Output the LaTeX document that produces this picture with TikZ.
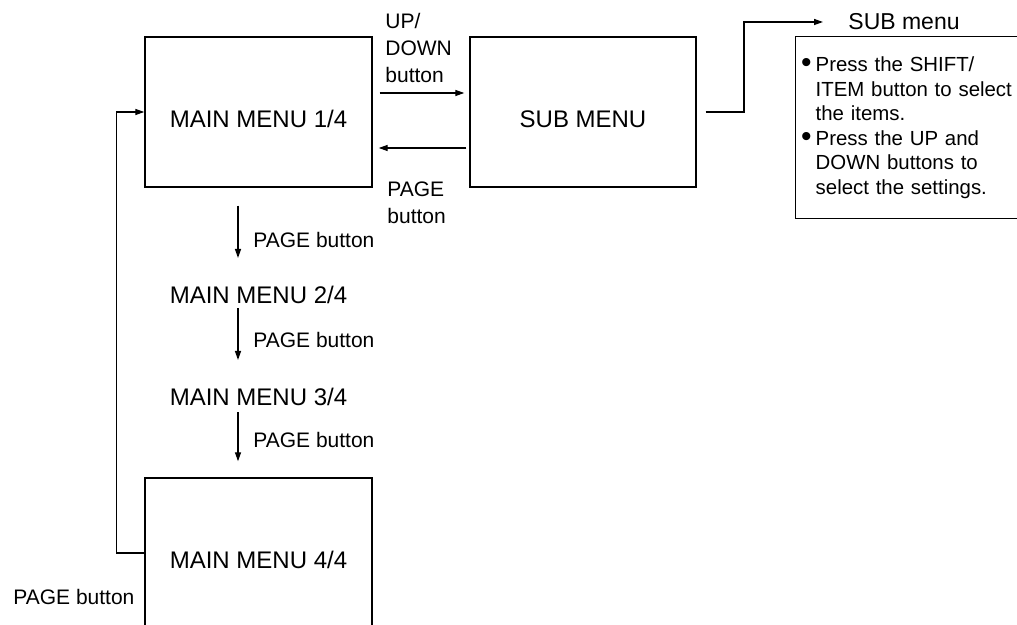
\documentclass[tikz,border=0pt]{standalone}
\usepackage{fontspec}
\setmainfont{Liberation Sans}
\usetikzlibrary{arrows.meta}

\newcommand{\notebullet}{\leavevmode\llap{\raisebox{-0.4pt}{\fontsize{15}{12}\selectfont\textbullet}\hspace{2pt}}}

\tikzset{
  menubox/.style={draw,line width=0.7pt,minimum width=113.5pt,minimum height=75pt,
    font=\fontsize{12}{14}\selectfont,text height=15.6pt,text depth=0pt},
  menutext/.style={inner sep=0pt,font=\fontsize{12}{14}\selectfont,text height=8.6pt,text depth=0pt},
  keylabel/.style={inner sep=0pt,anchor=west,align=left,font=\fontsize{10.5}{13.5}\selectfont},
  notebox/.style={draw,line width=0.7pt,anchor=north west,align=left,text width=150pt,
    inner xsep=10pt,minimum height=91pt,font=\fontsize{10.2}{12.3}\selectfont},
  arr/.style={line width=0.65pt,-{Triangle[length=4.5pt,width=3pt]}}
}

\begin{document}
\begin{tikzpicture}[x=0.5pt,y=-0.5pt]
  \useasboundingbox (0,0) rectangle (1017,625);
  \clip (0,0) rectangle (1017,625);

  \node[menubox] (main1) at (258.5,112) {MAIN MENU 1/4};
  \node[menubox,minimum width=113pt] (sub) at (583,112) {SUB MENU};
  \node[menutext] (main2) at (258.5,295) {MAIN MENU 2/4};
  \node[menutext] (main3) at (258.5,397) {MAIN MENU 3/4};
  \node[menubox] (main4) at (258.5,553) {MAIN MENU 4/4};

  \node[keylabel] (updown) at (385,48) {UP/\\DOWN\\button};
  \node[keylabel] (pageback) at (387,203) {PAGE\\button};
  \node[keylabel] (pg1) at (253,240) {PAGE button};
  \node[keylabel] (pg2) at (253,340) {PAGE button};
  \node[keylabel] (pg3) at (253,440) {PAGE button};
  \node[keylabel] (pg4) at (13,597) {PAGE button};

  \node[keylabel,font=\fontsize{11.5}{14}\selectfont] (submenu) at (848,22) {SUB menu};
  \node[notebox] (notes) at (795,36) {%
    \notebullet Press the SHIFT/\\
    ITEM button to select\\
    the items.\\
    \notebullet Press the UP and\\
    DOWN buttons to\\
    select the settings.};

  \draw[arr] ([shift={(7,-19)}]main1.east) -- ([shift={(-5,-19)}]sub.west);
  \draw[arr] ([shift={(-3,36)}]sub.west) -- ([shift={(6,36)}]main1.east);
  \draw[arr] ([xshift=4.5pt]sub.east) -| (744,60) |- ([xshift=-12.5pt]submenu.west);

  \draw[arr,shorten <=9pt,shorten >=14pt] ([xshift=-10.25pt]main1.south) -- ([xshift=-10.25pt]main2.north);
  \draw[arr,shorten <=2.2pt,shorten >=14pt] ([xshift=-10.25pt]main2.south) -- ([xshift=-10.25pt]main3.north);
  \draw[arr,shorten <=3.2pt,shorten >=8pt] ([xshift=-10.25pt]main3.south) -- ([xshift=-10.25pt]main4.north);
  \draw[arr] (main4.west) -- ++(-28,0) |- (main1.west);
\end{tikzpicture}
\end{document}
